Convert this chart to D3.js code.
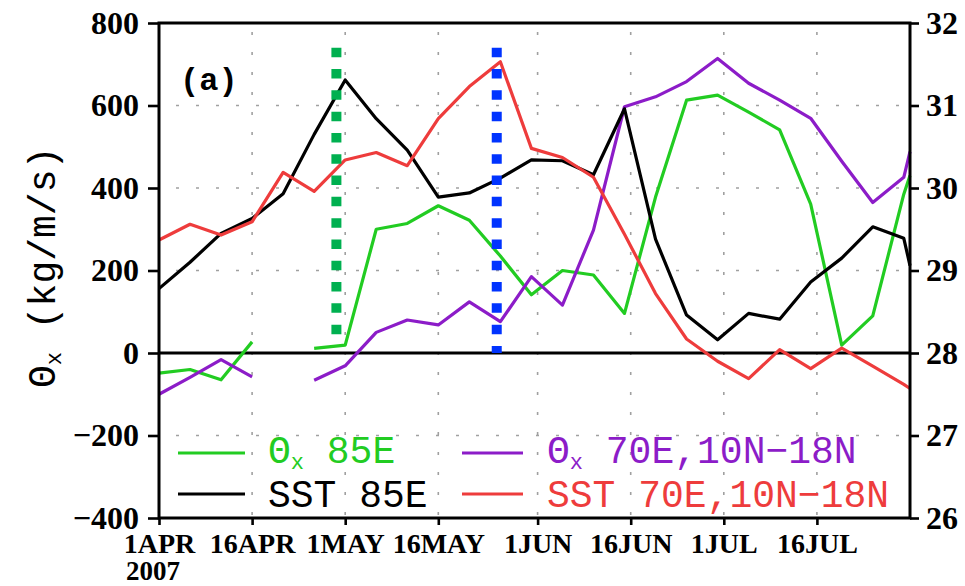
<!DOCTYPE html>
<html>
<head>
<meta charset="utf-8">
<script src="https://cdn.jsdelivr.net/npm/d3@7"></script>
<style>
body { margin: 0; background: #fff; }
</style>
</head>
<body>
<div id="chart"></div>
<script>
// pentad dates (last one is 31 Jul)
var dates = ["2007-04-01","2007-04-06","2007-04-11","2007-04-16","2007-04-21","2007-04-26",
             "2007-05-01","2007-05-06","2007-05-11","2007-05-16","2007-05-21","2007-05-26","2007-05-31",
             "2007-06-05","2007-06-10","2007-06-15","2007-06-20","2007-06-25","2007-06-30",
             "2007-07-05","2007-07-10","2007-07-15","2007-07-20","2007-07-25","2007-07-30","2007-07-31"];
// left axis, kg/m/s
var thetaX85 = [-49, -40, -65, 27, null, 11, 19, 300, 314, 357, 322, 235, 141,
                200, 189, 96, 378, 613, 625, 584, 541, 361, 19, 90, 385, 430];
var thetaX70 = [-100, -59, -16, -58, null, -66, -31, 50, 80, 68, 124, 76, 185,
                116, 298, 597, 621, 658, 714, 654, 613, 569, 465, 365, 426, 488];
// right axis, degC
var sst85 = [28.78, 29.10, 29.45, 29.63, 29.93, 30.65, 31.31, 30.84, 30.46, 29.89, 29.94, 30.12, 30.34,
             30.33, 30.16, 30.96, 29.38, 28.46, 28.16, 28.48, 28.41, 28.86, 29.15, 29.53, 29.39, 29.06];
var sst70 = [29.37, 29.56, 29.43, 29.59, 30.19, 29.96, 30.34, 30.43, 30.27, 30.84, 31.23, 31.53, 30.48,
             30.37, 30.13, 29.44, 28.72, 28.17, 27.90, 27.69, 28.04, 27.81, 28.06, 27.84, 27.62, 27.57];

var leftTicks = [-400, -200, 0, 200, 400, 600, 800];
var rightTicks = [26, 27, 28, 29, 30, 31, 32];
var dateTicks = ["2007-04-01","2007-04-16","2007-05-01","2007-05-16","2007-06-01","2007-06-16","2007-07-01","2007-07-16"];

// vertical dotted markers
var markDates = ["2007-04-29T14:00Z", "2007-05-25T10:00Z"];
var markTop = [740, 740];
var markBottom = [40, 0];
var markColors = ["#00b050", "#0033ff"];

var w = 965, h = 586;
var x0 = 159, x1 = 910, y0 = 23, y1 = 518;

var parse = d3.utcParse("%Y-%m-%d");
var dts = dates.map(parse);

var x = d3.scaleUtc()
  .domain([parse("2007-04-01"), parse("2007-07-31")])
  .range([x0, x1]);
var yL = d3.scaleLinear().domain([-400, 800]).range([y1, y0]);
var yR = d3.scaleLinear().domain([26, 32]).range([y1, y0]);

var svg = d3.select("#chart").append("svg")
  .attr("width", w)
  .attr("height", h);

// grid
svg.append("g").selectAll("line")
  .data(dateTicks.slice(1))
  .enter().append("line")
  .attr("x1", function(d){ return x(parse(d)); })
  .attr("x2", function(d){ return x(parse(d)); })
  .attr("y1", y0 + 9)
  .attr("y2", y1)
  .attr("stroke", "#a0a0a0")
  .attr("stroke-width", 1.6)
  .attr("stroke-dasharray", "3,17");
svg.append("g").selectAll("line")
  .data([-200, 200, 400, 600])
  .enter().append("line")
  .attr("x1", x0 + 17)
  .attr("x2", x1)
  .attr("y1", function(d){ return yL(d); })
  .attr("y2", function(d){ return yL(d); })
  .attr("stroke", "#a0a0a0")
  .attr("stroke-width", 1.6)
  .attr("stroke-dasharray", "3,17");

// zero line
svg.append("line")
  .attr("x1", x0).attr("x2", x1)
  .attr("y1", yL(0)).attr("y2", yL(0))
  .attr("stroke", "#000")
  .attr("stroke-width", 3.2);

function addLine(vals, scale, color){
  var line = d3.line()
    .defined(function(d){ return d != null; })
    .x(function(d, i){ return x(dts[i]); })
    .y(function(d){ return scale(d); });
  svg.append("path")
    .datum(vals)
    .attr("d", line)
    .attr("fill", "none")
    .attr("stroke", color)
    .attr("stroke-width", 3.2)
    .attr("stroke-linejoin", "round");
}
addLine(thetaX85, yL, "#22cc22");
addLine(thetaX70, yL, "#8c1cc8");
addLine(sst85, yR, "#000000");
addLine(sst70, yR, "#ee3c3c");

// dotted markers
svg.append("g").selectAll("line")
  .data(markDates)
  .enter().append("line")
  .attr("x1", function(d){ return x(d3.isoParse(d)); })
  .attr("x2", function(d){ return x(d3.isoParse(d)); })
  .attr("y1", function(d, i){ return yL(markTop[i]); })
  .attr("y2", function(d, i){ return yL(markBottom[i]); })
  .attr("stroke", function(d, i){ return markColors[i]; })
  .attr("stroke-width", 10)
  .attr("stroke-dasharray", "9.5,11.8");

// frame
svg.append("rect")
  .attr("x", x0).attr("y", y0)
  .attr("width", x1 - x0).attr("height", y1 - y0)
  .attr("fill", "none")
  .attr("stroke", "#000")
  .attr("stroke-width", 3);

// axes
var fmtNum = function(d){ return d < 0 ? "\u2212" + Math.abs(d) : d; };
var gl = svg.append("g")
  .attr("transform", "translate(" + x0 + ",0)")
  .call(d3.axisLeft(yL).tickValues(leftTicks).tickSize(11).tickPadding(9).tickFormat(fmtNum));
var gr = svg.append("g")
  .attr("transform", "translate(" + x1 + ",0)")
  .call(d3.axisRight(yR).tickValues(rightTicks).tickSize(9).tickPadding(7).tickFormat(d3.format("d")));
var gb = svg.append("g")
  .attr("transform", "translate(0," + y1 + ")")
  .call(d3.axisBottom(x).tickValues(dateTicks.map(parse)).tickSize(7).tickPadding(8)
    .tickFormat(function(d){ return d3.utcFormat("%-d%b")(d).toUpperCase(); }));
[gl, gr, gb].forEach(function(g){
  g.select(".domain").remove();
  g.selectAll(".tick line").attr("stroke", "#000").attr("stroke-width", 2.6);
  g.selectAll("text")
    .attr("fill", "#000")
    .attr("font-family", "Liberation Serif, serif")
    .attr("font-weight", "bold")
    .attr("font-size", 32);
});
gb.selectAll("text").attr("font-size", 28);

svg.append("text")
  .attr("x", 126).attr("y", 580)
  .attr("font-family", "Liberation Serif, serif")
  .attr("font-weight", "bold")
  .attr("font-size", 27)
  .text("2007");

// y title
var yt = svg.append("text")
  .attr("transform", "translate(55,388) rotate(-90)")
  .attr("font-family", "Liberation Mono, monospace")
  .attr("font-size", 38)
  .attr("fill", "#000");
yt.append("tspan").text("\u0398");
yt.append("tspan").attr("font-size", 22).attr("dy", 6).text("x");
yt.append("tspan").attr("dy", -6).text(" (kg/m/s)");

svg.append("text")
  .attr("x", 180).attr("y", 90)
  .attr("font-family", "Liberation Mono, monospace")
  .attr("font-weight", "bold")
  .attr("font-size", 32)
  .text("(a)");

// legend
var legNames = [["\u0398", "x", " 85E"], ["", "", "SST 85E"], ["\u0398", "x", " 70E,10N\u221218N"], ["", "", "SST 70E,10N\u221218N"]];
var legColors = ["#22cc22", "#000000", "#8c1cc8", "#ee3c3c"];
var legLineX = [[178, 245], [178, 245], [462, 523], [462, 523]];
var legTextX = [268, 268, 547, 547];
var legY = [453, 494, 453, 494];
var legTextY = [463, 507, 463, 507];

legNames.forEach(function(n, i){
  svg.append("line")
    .attr("x1", legLineX[i][0]).attr("x2", legLineX[i][1])
    .attr("y1", legY[i]).attr("y2", legY[i])
    .attr("stroke", legColors[i])
    .attr("stroke-width", 3);
  var t = svg.append("text")
    .attr("x", legTextX[i]).attr("y", legTextY[i])
    .attr("font-family", "Liberation Mono, monospace")
    .attr("font-size", 38)
    .attr("fill", legColors[i]);
  if (n[0]) {
    t.append("tspan").text(n[0]);
    t.append("tspan").attr("font-size", 22).attr("dy", 6).text(n[1]);
    t.append("tspan").attr("dy", -6).text(n[2]);
  } else {
    t.text(n[2]);
  }
});
</script>
</body>
</html>
